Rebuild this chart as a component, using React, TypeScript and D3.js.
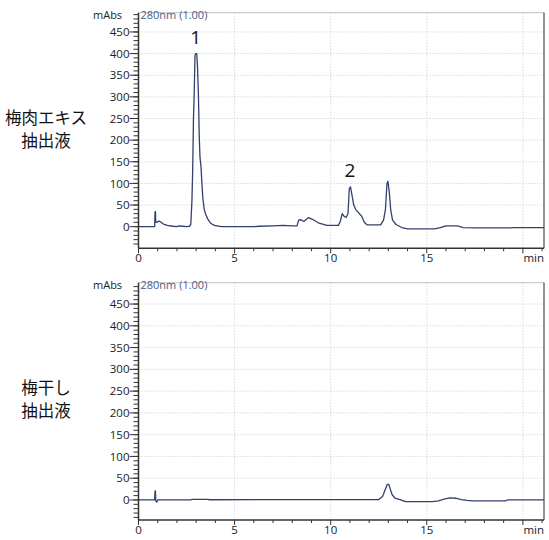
import React from "react";
import * as d3 from "d3";

// ---- data ----
const topTimes = [0, 0.84, 0.86, 0.88, 0.9, 0.95, 1.05, 1.15, 1.3, 1.5, 1.8, 2.0, 2.1, 2.3, 2.5, 2.65, 2.72, 2.78, 2.82, 2.86, 2.9, 2.94, 2.97, 3.03, 3.07, 3.12, 3.16, 3.2, 3.25, 3.3, 3.35, 3.42, 3.5, 3.6, 3.75, 3.95, 4.3, 6.0, 6.3, 7.0, 7.5, 8.0, 8.25, 8.33, 8.45, 8.6, 8.85, 9.05, 9.4, 9.8, 10.4, 10.5, 10.6, 10.7, 10.8, 10.9, 10.97, 11.03, 11.1, 11.2, 11.3, 11.45, 11.6, 11.75, 11.9, 12.6, 12.75, 12.85, 12.93, 12.98, 13.05, 13.12, 13.22, 13.4, 13.7, 14.0, 15.4, 15.7, 16.0, 16.6, 16.9, 17.5, 19.4, 19.5, 21.1];
const topValues = [0, 0, 33, 35, 10, 10, 13, 11, 6, 3, 1, 0, 2, 1, 0, 1, 5, 60, 130, 250, 310, 395, 400, 400, 370, 300, 210, 160, 140, 100, 65, 40, 28, 18, 8, 3, 0, 0, 1, 2, 3, 2, 2, 15, 16, 12, 21, 17, 8, 3, 3, 12, 30, 24, 21, 30, 88, 92, 75, 50, 40, 32, 25, 10, 4, 4, 15, 40, 100, 105, 80, 40, 15, 5, -2, -5, -5, -2, 2, 2, -2, -3, -3, -2, -2];

const bottomTimes = [0, 0.84, 0.86, 0.88, 0.9, 0.95, 1.0, 2.7, 2.8, 3.6, 3.7, 12.5, 12.7, 12.85, 12.95, 13.02, 13.1, 13.2, 13.35, 13.6, 13.9, 15.3, 15.6, 15.9, 16.2, 16.5, 16.8, 17.1, 17.4, 19.1, 19.2, 21.1];
const bottomValues = [0, 0, 20, 21, -2, -5, 0, 0, 1.5, 1.5, 0.5, 1, 8, 25, 36, 36, 25, 12, 4, 1, -4, -4, -2, 2, 5, 4, 1, -1, -2, -2, 0, 0];

const sampleLabels = [["梅肉エキス", "抽出液"], ["梅干し", "抽出液"]];
const yMajorTicks = [0, 50, 100, 150, 200, 250, 300, 350, 400, 450];
const xMajorTicks = [0, 5, 10, 15, 20];
const xTickLabels = ["0", "5", "10", "15"];
const peakLabels = [{ t: 2.97, v: 400, text: "1" }, { t: 11.0, v: 92, text: "2" }];
const channelLabel = "280nm (1.00)";
const yUnit = "mAbs";
const xUnit = "min";

const W = 549;
const H = 540;
const LEFT = 138.5;
const RIGHT = 544;
const X_MAX = 21.1;
const NUM_FONT = "'Open Sans', 'DejaVu Sans', sans-serif";
const CJK_FONT = "'Noto Sans CJK JP', sans-serif";
const LINE_COLOR = "#34406e";

type PanelProps = {
  top: number;
  bottom: number;
  yMin: number;
  yMax: number;
  times: number[];
  values: number[];
  labels: string[];
  labelY: number[];
  peaks: { t: number; v: number; text: string }[];
};

function Panel({ top, bottom, yMin, yMax, times, values, labels, labelY, peaks }: PanelProps) {
  const x = d3.scaleLinear().domain([0, X_MAX]).range([LEFT, RIGHT]);
  const y = d3.scaleLinear().domain([yMin, yMax]).range([bottom, top]);
  const pts: [number, number][] = times.map((t, i) => [t, values[i]]);
  const line = d3
    .line<[number, number]>()
    .x((d) => x(d[0]))
    .y((d) => y(d[1]));
  const minorY = d3.range(-40, yMax, 10);
  const minorX = d3.range(0, Math.floor(X_MAX) + 1, 1);
  return (
    <g>
      {/* grid */}
      {yMajorTicks
        .filter((v) => v > 0)
        .map((v) => (
          <line key={"gy" + v} x1={LEFT} x2={RIGHT} y1={y(v)} y2={y(v)} stroke="#c8c8c8" strokeWidth={1} strokeDasharray="1,2" />
        ))}
      {xMajorTicks
        .filter((t) => t > 0)
        .map((t) => (
          <line key={"gx" + t} x1={x(t)} x2={x(t)} y1={top} y2={bottom} stroke="#c8c8c8" strokeWidth={1} strokeDasharray="1,2" />
        ))}
      {/* frame */}
      <line x1={LEFT} x2={RIGHT} y1={top} y2={top} stroke="#c0c0c0" strokeWidth={1} />
      <line x1={RIGHT} x2={RIGHT} y1={top} y2={bottom} stroke="#222" strokeWidth={1} />
      {/* trace */}
      <path d={line(pts) || ""} fill="none" stroke={LINE_COLOR} strokeWidth={1.3} strokeLinejoin="round" />
      {/* y axis */}
      <line x1={LEFT} x2={LEFT} y1={top} y2={bottom} stroke="#333" strokeWidth={1.5} />
      {minorY.map((v) => (
        <line key={"my" + v} x1={LEFT - 5} x2={LEFT} y1={y(v)} y2={y(v)} stroke="#333" strokeWidth={1} />
      ))}
      {yMajorTicks.map((v) => (
        <g key={"yt" + v}>
          <line x1={LEFT - 9} x2={LEFT} y1={y(v)} y2={y(v)} stroke="#333" strokeWidth={1} />
          <text x={129.5} y={y(v)} dy="0.36em" textAnchor="end" fontFamily={NUM_FONT} fontSize={11.5} fill="#222">
            {v}
          </text>
        </g>
      ))}
      <text x={93} y={top + 6} fontFamily={NUM_FONT} fontSize={11} fill="#222">
        {yUnit}
      </text>
      <text x={140.5} y={top + 6.5} fontFamily={NUM_FONT} fontSize={11} fill="#4d5b8a">
        {channelLabel}
      </text>
      {/* x axis */}
      <line x1={LEFT} x2={RIGHT} y1={bottom} y2={bottom} stroke="#333" strokeWidth={1.5} />
      {minorX.map((t) => (
        <line key={"mx" + t} x1={x(t)} x2={x(t)} y1={bottom} y2={bottom + (t % 5 === 0 ? 5 : 3)} stroke="#333" strokeWidth={1} />
      ))}
      {xTickLabels.map((s, i) => (
        <text key={"xl" + s} x={x(xMajorTicks[i])} y={bottom + 14} textAnchor="middle" fontFamily={NUM_FONT} fontSize={11.5} fill="#222">
          {s}
        </text>
      ))}
      <text x={RIGHT} y={bottom + 14} textAnchor="end" fontFamily={NUM_FONT} fontSize={11.5} fill="#222">
        {xUnit}
      </text>
      {/* peak labels */}
      {peaks.map((p) => (
        <text key={"p" + p.text} x={x(p.t)} y={y(p.v) - 10} textAnchor="middle" fontFamily={NUM_FONT} fontSize={19} fill="#111">
          {p.text}
        </text>
      ))}
      {/* sample label */}
      {labels.map((s, i) => (
        <text key={"sl" + i} x={46} y={labelY[i]} dy="0.35em" textAnchor="middle" fontFamily={CJK_FONT} fontSize={16.5} fill="#111">
          {s}
        </text>
      ))}
    </g>
  );
}

export default function App() {
  return (
    <svg width={W} height={H} style={{ position: "absolute", left: 0, top: 0, background: "#fff" }}>
      <rect x={0} y={0} width={W} height={H} fill="#fff" />
      <Panel
        top={12.7}
        bottom={248.3}
        yMin={-50}
        yMax={494.5}
        times={topTimes}
        values={topValues}
        labels={sampleLabels[0]}
        labelY={[118, 141.5]}
        peaks={peakLabels}
      />
      <Panel
        top={282.7}
        bottom={520}
        yMin={-46}
        yMax={499}
        times={bottomTimes}
        values={bottomValues}
        labels={sampleLabels[1]}
        labelY={[388.5, 411.5]}
        peaks={[]}
      />
    </svg>
  );
}
